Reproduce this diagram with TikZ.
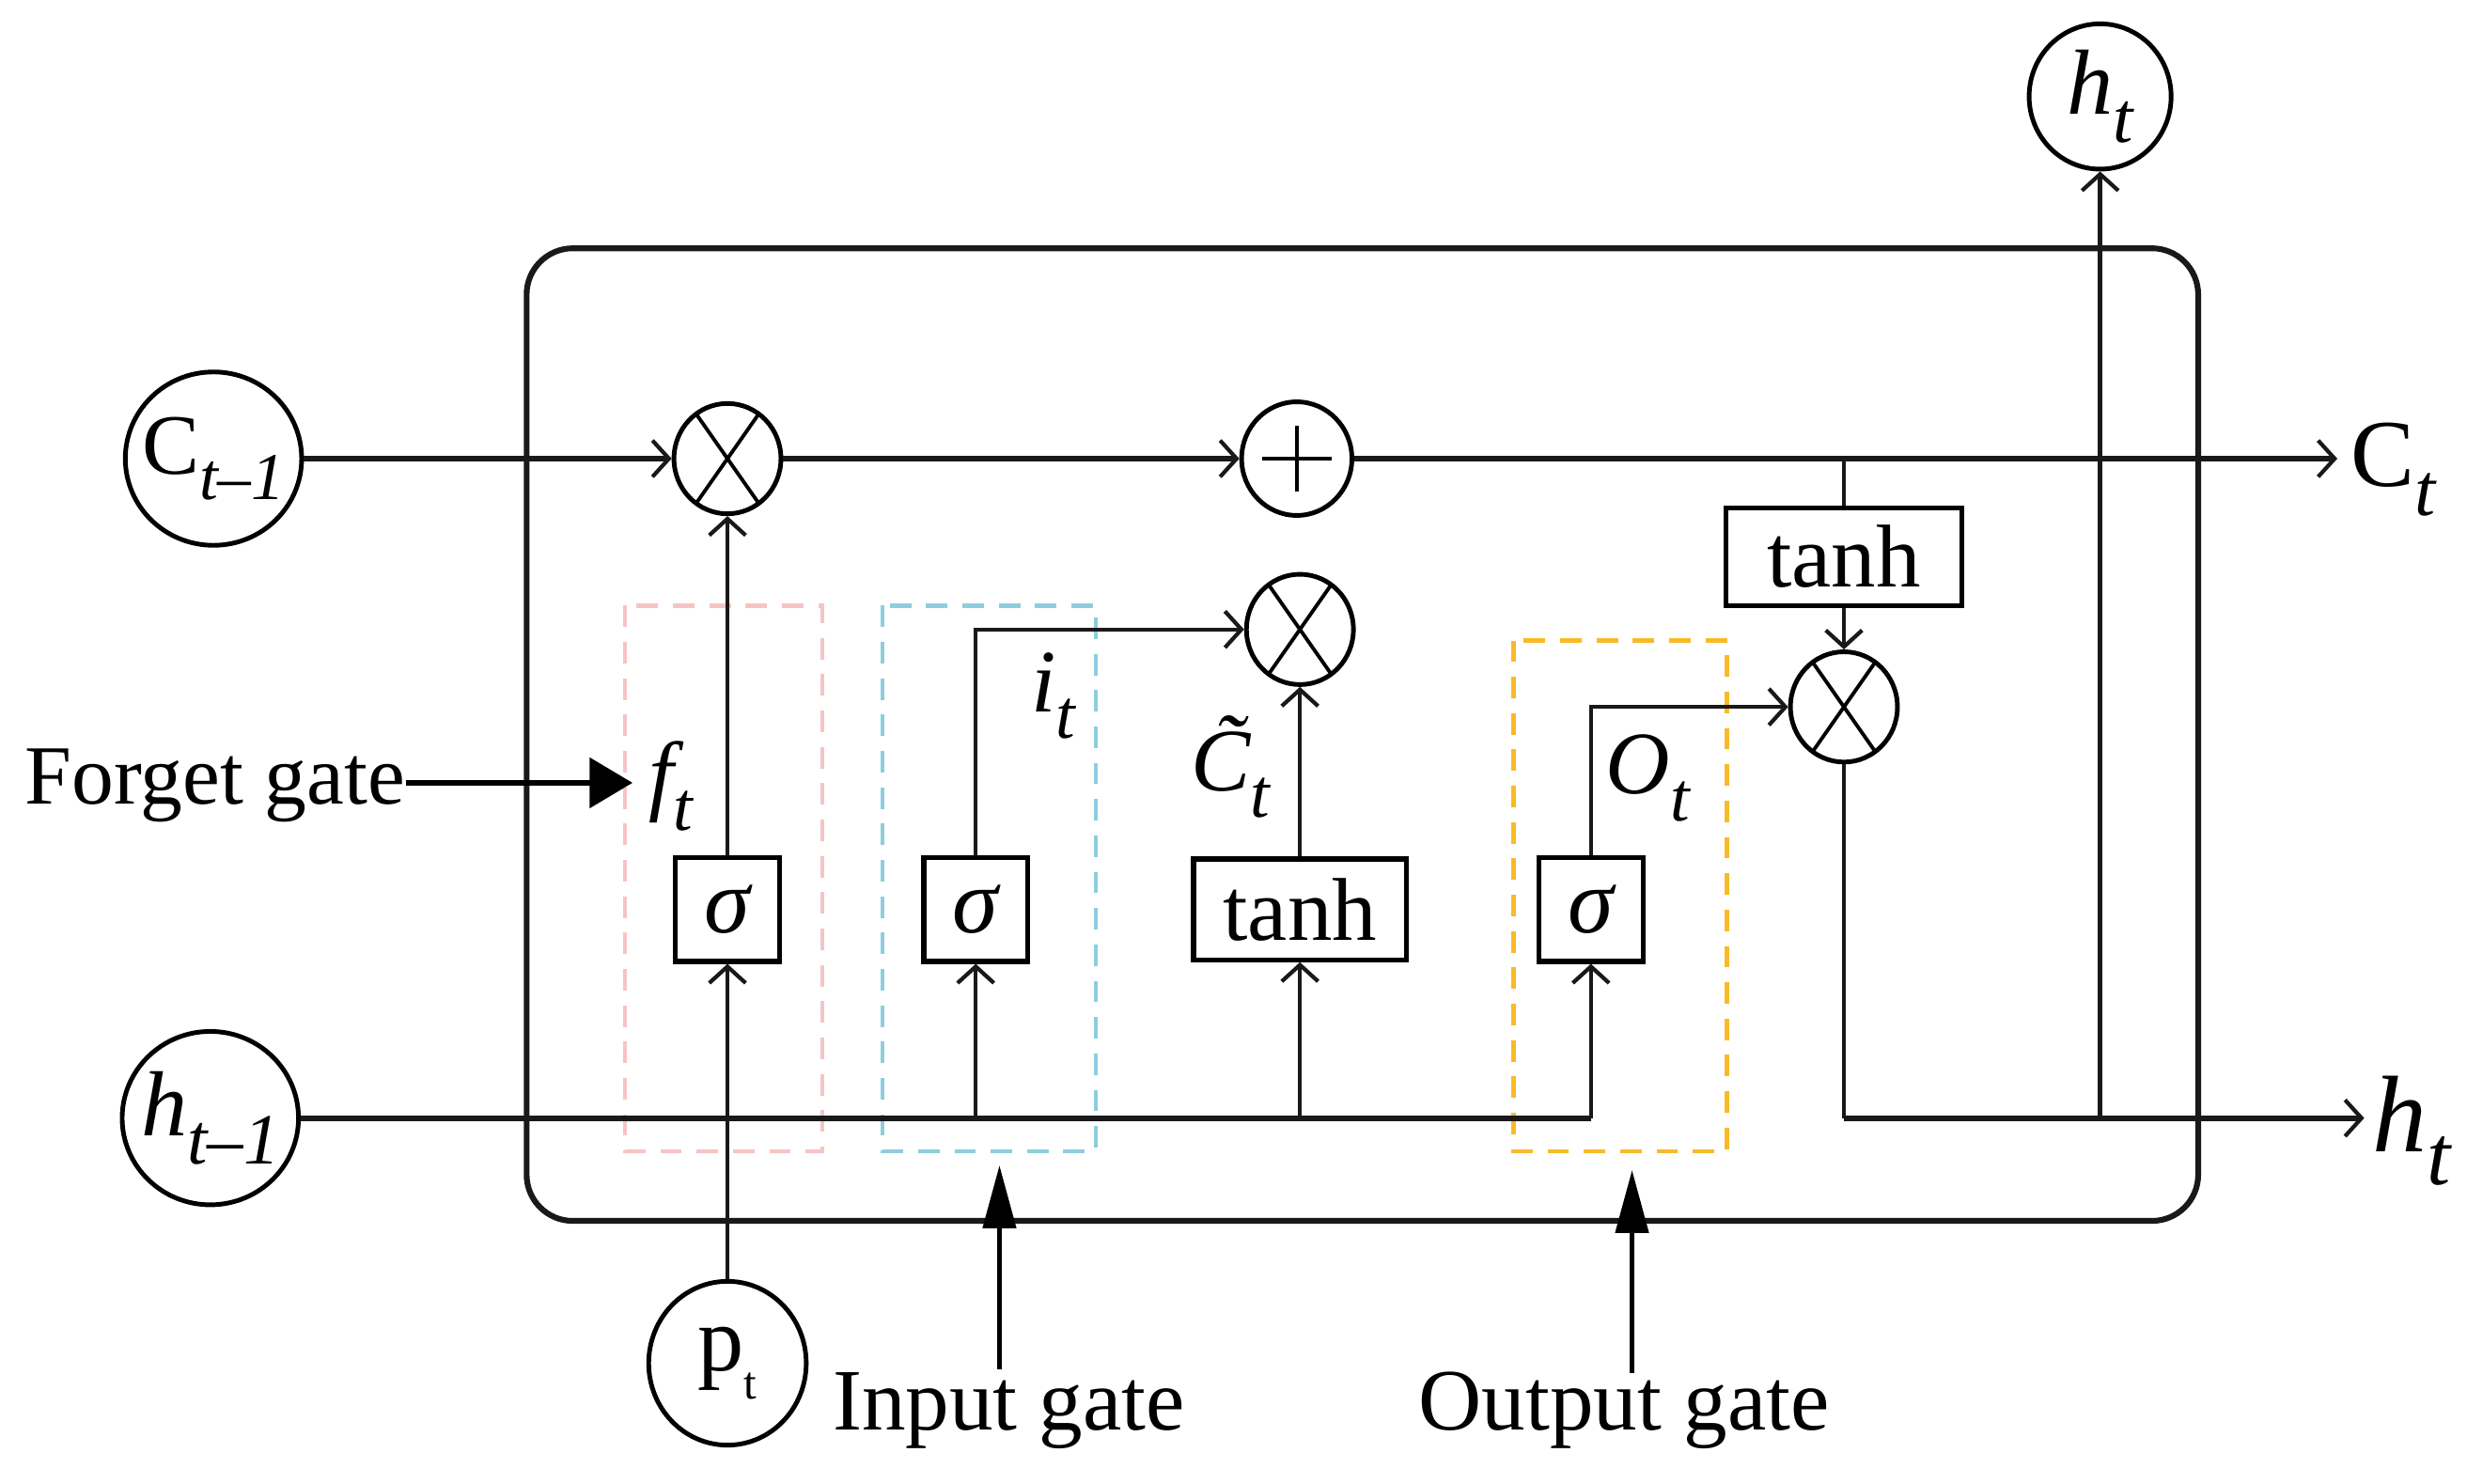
\documentclass[tikz,border=0pt]{standalone}
\usepackage{fontspec}
\usepackage{graphicx}
\setmainfont{Liberation Serif}
\usetikzlibrary{arrows.meta,shapes.geometric,calc}
\newcommand{\lsub}[1]{\raisebox{-0.30em}{\scalebox{0.78}{\itshape #1}}}
\definecolor{gpink}{RGB}{246,196,196}
\definecolor{gcyan}{RGB}{140,206,222}
\definecolor{gorange}{RGB}{248,186,40}
\tikzset{
  ln/.style={line width=1.25pt, draw=black!90},
  thk/.style={line width=1.75pt, draw=black!90},
  arr/.style={-{Straight Barb[length=5pt,width=11pt,line width=1.2pt]}},
  circ/.style={draw, ellipse, line width=1.4pt, inner sep=0pt},
  mul/.style={circ, minimum width=32.4pt, minimum height=33.4pt,
    path picture={\draw[line width=1.1pt]
      ([shift={(55:20pt)}]path picture bounding box.center) -- ([shift={(235:20pt)}]path picture bounding box.center)
      ([shift={(125:20pt)}]path picture bounding box.center) -- ([shift={(305:20pt)}]path picture bounding box.center);}},
  addn/.style={circ, minimum width=33.4pt, minimum height=34.4pt,
    path picture={\draw[line width=1.1pt]
      ([xshift=-10.5pt]path picture bounding box.center) -- ([xshift=10.5pt]path picture bounding box.center)
      ([yshift=-10pt]path picture bounding box.center) -- ([yshift=10pt]path picture bounding box.center);}},
  sbox/.style={draw, line width=1.5pt, minimum width=31.5pt, minimum height=31.5pt, inner sep=0pt,
    font=\fontsize{28}{32}\selectfont\itshape},
  tbox/.style={draw, line width=1.5pt, inner sep=0pt, font=\fontsize{27}{32}\selectfont},
  lab/.style={inner sep=0pt, font=\fontsize{27}{32}\selectfont},
  gtxt/.style={inner sep=0pt, font=\fontsize{25.5}{30}\selectfont},
  dpink/.style={draw=gpink, line width=1.2pt, dash pattern=on 6.5pt off 4.5pt},
  dcyan/.style={draw=gcyan, line width=1.2pt, dash pattern=on 6.5pt off 4.5pt},
  dorange/.style={draw=gorange, line width=1.4pt, dash pattern=on 6.5pt off 4.5pt},
  garr/.style={line width=1.7pt, -{Triangle[length=13pt,width=15pt]}},
  varr/.style={line width=1.2pt, -{Triangle[length=19pt,width=10pt]}},
}
\begin{document}
\begin{tikzpicture}[x=0.016827cm, y=-0.016827cm]
\useasboundingbox[fill=white] (0,0) rectangle (1560,938);

% dashed gate boxes
\draw[dpink]   (395,383) rectangle (520,728);
\draw[dcyan]   (558,383) rectangle (693,728);
\draw[dorange] (957,405) rectangle (1092,728);

% outer cell
\draw[thk, rounded corners=14pt] (333,157) rectangle (1390,772);

% inputs / outputs
\node[circ, inner xsep=-3pt, minimum width=53.4pt, minimum height=52.5pt, font=\fontsize{26}{30}\selectfont] (cin) at (135,290) {C\lsub{t–1}};
\node[circ, inner xsep=-3pt, minimum width=53.4pt, minimum height=52.5pt, font=\fontsize{28}{30}\selectfont] (hin) at (133,707) {\itshape h\lsub{t–1}};
\node[circ, minimum width=47.7pt, minimum height=49.6pt, font=\fontsize{28}{30}\selectfont] (pin) at (460,862) {p\raisebox{-0.3em}{\scalebox{0.5}{t}}};
\node[circ, minimum width=43pt, minimum height=44pt, font=\fontsize{28}{30}\selectfont] (hout) at (1328,61) {\itshape h\lsub{t}};

% operators
\node[mul]  (m1) at (460,290) {};
\node[addn] (a1) at (820,290) {};
\node[mul]  (m2) at (822,398) {};
\node[mul]  (m3) at (1166,447) {};

% activation boxes
\node[sbox] (s1) at (460,575) {σ};
\node[sbox] (s2) at (617,575) {σ};
\node[sbox] (s3) at (1006,575) {σ};
\node[tbox, minimum width=64.4pt, minimum height=30.5pt] (t1) at (822,575) {tanh};
\node[tbox, minimum width=71.6pt, minimum height=29.6pt] (t2) at (1166,352) {tanh};

% end coordinates
\coordinate (cend) at (1478,290);
\coordinate (hend) at (1495,707);
\node[lab, anchor=west, font=\fontsize{29}{32}\selectfont] (ctl) at (1486,297) {C\lsub{t}};
\node[lab, anchor=west, font=\fontsize{33}{36}\selectfont] (htl) at (1500,715) {\itshape h\lsub{t}};

% cell state line
\draw[thk, arr] (cin) -- (m1);
\draw[thk, arr] (m1) -- (a1);
\draw[thk, arr] (a1) -- (cend);
\coordinate (j1) at (t2 |- a1);
\draw[ln] (j1) -- (t2.north);
\draw[ln, arr] (t2) -- (m3);

% hidden line
\draw[thk] (hin) -- (s3 |- hin);
\draw[ln, arr] (s3 |- hin) -- (s3.south);
\draw[ln, arr] (s2 |- hin) -- (s2.south);
\draw[ln, arr] (t1 |- hin) -- (t1.south);
\draw[ln, arr] (pin) -- (s1.south);

% gate outputs
\draw[ln, arr] (s1) -- (m1);
\draw[ln, arr] (s2.north) |- (m2.west);
\draw[ln, arr] (t1) -- (m2);
\draw[ln, arr] (s3.north) |- (m3.west);

% output
\draw[ln] (m3.south) |- (m3 |- hend);
\draw[thk, arr] (m3 |- hend) -- (hend);
\coordinate (j2) at (1328,707);
\draw[ln, arr] (j2) -- (hout.south);

% labels
\node[lab] (ft) at (424,497) {\itshape f\lsub{t}};
\node[lab] (it) at (666,440) {\itshape i\lsub{t}};
\node[lab] (ct) at (778,485) {\itshape \~{C}\lsub{t}};
\node[lab] (ot) at (1042,492) {\itshape O\lsub{t}};

% gate annotations
\node[gtxt] (fg) at (136,497) {Forget gate};
\coordinate (fgtip) at (400,495);
\draw[garr] (fg.east |- fgtip) -- (fgtip);
\node[gtxt, font=\fontsize{26.5}{30}\selectfont] (ig) at (638,892) {Input gate};
\coordinate (igs) at (632,866);
\coordinate (igtip) at (632,737);
\draw[varr] (igs) -- (igtip);
\node[gtxt, font=\fontsize{26.5}{30}\selectfont] (og) at (1027,892) {Output gate};
\coordinate (ogs) at (1032,868);
\coordinate (ogtip) at (1032,740);
\draw[varr] (ogs) -- (ogtip);
\end{tikzpicture}
\end{document}
